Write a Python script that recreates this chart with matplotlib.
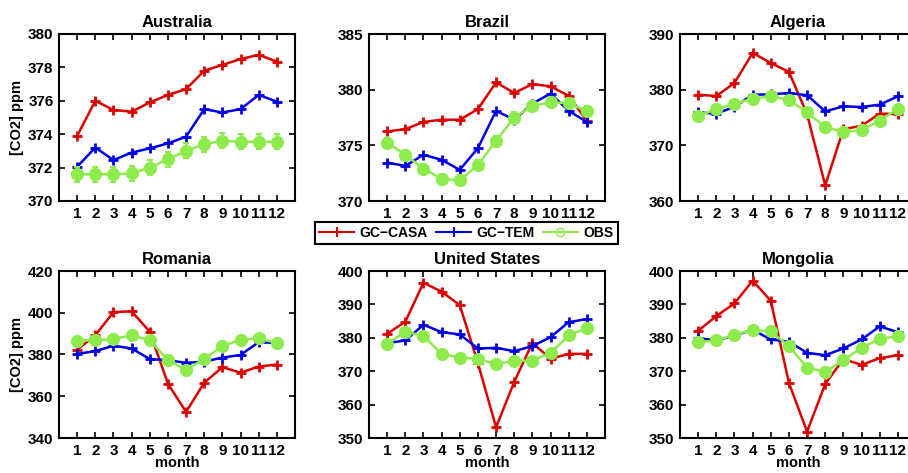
import numpy as np
import matplotlib.pyplot as plt
from matplotlib.lines import Line2D

plt.rcParams['font.family'] = ['Liberation Sans', 'DejaVu Sans']
plt.rcParams['font.weight'] = 'bold'

months = np.arange(1, 13)
regions = ['Australia', 'Brazil', 'Algeria', 'Romania', 'United States', 'Mongolia']

casa = {
    'Australia': [373.9, 376.0, 375.45, 375.35, 375.9, 376.35, 376.7, 377.8, 378.15, 378.5, 378.75, 378.35],
    'Brazil': [376.25, 376.45, 377.1, 377.3, 377.3, 378.25, 380.65, 379.7, 380.5, 380.3, 379.45, 377.2],
    'Algeria': [379.1, 378.85, 381.2, 386.6, 384.8, 383.2, 375.6, 362.8, 372.9, 373.5, 375.7, 375.6],
    'Romania': [382.3, 389.2, 400.3, 400.7, 390.9, 366.0, 352.5, 366.5, 373.9, 371.3, 374.2, 375.2],
    'United States': [381.2, 384.8, 396.5, 393.8, 389.8, 372.4, 353.2, 366.8, 378.5, 373.7, 375.2, 375.2],
    'Mongolia': [382.1, 386.5, 390.3, 397.1, 391.1, 366.5, 351.9, 366.2, 373.6, 371.9, 373.9, 374.8],
}
tem = {
    'Australia': [372.05, 373.2, 372.45, 372.9, 373.15, 373.45, 373.85, 375.5, 375.3, 375.5, 376.35, 375.95],
    'Brazil': [373.45, 373.15, 374.15, 373.7, 372.8, 374.75, 378.1, 377.3, 378.75, 379.65, 378.1, 377.1],
    'Algeria': [375.9, 375.7, 376.9, 379.1, 379.15, 379.4, 379.0, 376.1, 377.0, 376.9, 377.3, 378.8],
    'Romania': [380.3, 381.6, 384.2, 382.9, 377.8, 377.3, 376.0, 376.6, 378.5, 379.8, 385.9, 385.5],
    'United States': [378.4, 379.2, 383.9, 381.7, 381.0, 376.8, 377.0, 376.0, 377.5, 380.2, 384.7, 385.6],
    'Mongolia': [379.9, 379.2, 380.7, 382.4, 379.5, 378.8, 375.5, 374.8, 376.8, 379.5, 383.4, 381.7],
}
obs = {
    'Australia': [371.6, 371.6, 371.6, 371.65, 372.0, 372.5, 373.0, 373.4, 373.6, 373.55, 373.55, 373.55],
    'Brazil': [375.25, 374.15, 372.9, 372.0, 371.85, 373.25, 375.4, 377.5, 378.55, 378.85, 378.8, 378.05],
    'Algeria': [375.3, 376.5, 377.45, 378.4, 378.8, 378.2, 375.9, 373.3, 372.4, 372.7, 374.4, 376.6],
    'Romania': [386.6, 386.9, 387.4, 389.2, 386.9, 377.3, 372.6, 377.9, 384.0, 387.1, 387.7, 385.5],
    'United States': [378.2, 381.8, 380.6, 375.15, 374.1, 373.7, 372.1, 373.1, 373.2, 375.45, 380.7, 382.9],
    'Mongolia': [378.7, 379.2, 380.9, 382.4, 381.9, 377.5, 371.1, 369.8, 373.3, 377.0, 379.7, 380.5],
}
obs_err = 0.45

ylims = {
    'Australia': (370, 380, [370, 372, 374, 376, 378, 380]),
    'Brazil': (370, 385, [370, 375, 380, 385]),
    'Algeria': (360, 390, [360, 370, 380, 390]),
    'Romania': (340, 420, [340, 360, 380, 400, 420]),
    'United States': (350, 400, [350, 360, 370, 380, 390, 400]),
    'Mongolia': (350, 400, [350, 360, 370, 380, 390, 400]),
}

red = '#DD0000'
blue = '#0000E6'
green = '#8EEB4E'

fig = plt.figure(figsize=(9.08, 4.73), dpi=100)
W, H = 908, 473
lefts = [59, 369, 680]
tops = [34, 271]
aw, ah = 236, 167

for i, name in enumerate(regions):
    r, c = divmod(i, 3)
    ax = fig.add_axes([lefts[c] / W, 1 - (tops[r] + ah) / H, aw / W, ah / H])
    ax.plot(months, casa[name], color=red, lw=1.8, marker='+', ms=7, mew=2)
    ax.plot(months, tem[name], color=blue, lw=1.8, marker='+', ms=7, mew=2)
    ax.errorbar(months, obs[name], yerr=obs_err, color=green, lw=1.8, marker='o',
                ms=8.5, mfc=green, mec=green, elinewidth=1.8, capsize=2.5, capthick=1.5)
    lo, hi, yt = ylims[name]
    ax.set_ylim(lo, hi)
    ax.set_yticks(yt)
    ax.set_xlim(0, 13)
    ax.set_xticks(months)
    ax.tick_params(direction='in', top=True, right=True, length=4, width=1.2,
                   labelsize=11, pad=4)
    for lab in ax.get_xticklabels() + ax.get_yticklabels():
        lab.set_fontweight('bold')
    for s in ax.spines.values():
        s.set_linewidth(1.5)
    ax.set_title(name, fontsize=12, fontweight='bold', pad=5)
    if c == 0:
        ax.set_ylabel('[CO2] ppm', fontsize=10.5, fontweight='bold', labelpad=3)
    if r == 1:
        ax.set_xlabel('month', fontsize=10.5, fontweight='bold', labelpad=-1)

handles = [
    Line2D([], [], color=red, lw=1.5, marker='+', ms=7, mew=1.5),
    Line2D([], [], color=blue, lw=1.5, marker='+', ms=7, mew=1.5),
    Line2D([], [], color=green, lw=1.5, marker='o', ms=6, mfc='none', mew=1),
]
leg = fig.legend(handles, ['GC\u2212CASA', 'GC\u2212TEM', 'OBS'], ncol=3,
                 loc='center', bbox_to_anchor=(466.5 / W, 1 - 233 / H),
                 fancybox=False, edgecolor='black', framealpha=1,
                 prop={'size': 10, 'weight': 'bold'}, handlelength=2.5,
                 columnspacing=0.6, handletextpad=0.4, borderpad=0.3,
                 borderaxespad=0)
leg.get_frame().set_linewidth(1.5)

fig.savefig('out.png', dpi=100)
